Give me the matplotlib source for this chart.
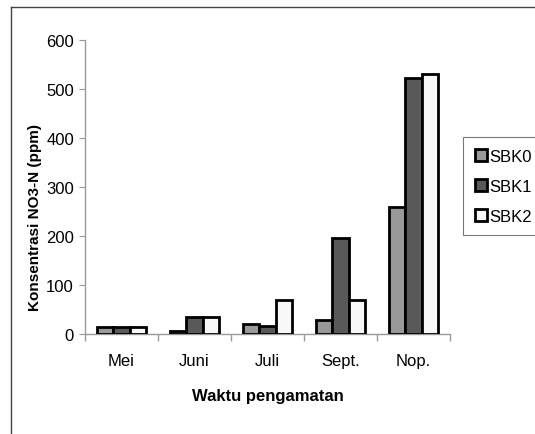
import numpy as np
import matplotlib.pyplot as plt
from matplotlib.lines import Line2D

months = ["Mei", "Juni", "Juli", "Sept.", "Nop."]
series_names = ["SBK0", "SBK1", "SBK2"]
sbk0 = [15, 6, 20, 29, 259]
sbk1 = [15, 34, 16, 196, 522]
sbk2 = [15, 34, 70, 70, 531]

colors = ["#999999", "#595959", "#f8f8f8"]

plt.rcParams['font.family'] = ['Liberation Sans', 'DejaVu Sans']

fig = plt.figure(figsize=(5.35, 4.35), dpi=100)
ax = fig.add_axes([85 / 535, 100 / 435, 365 / 535, 294 / 435])

x = np.arange(len(months))
w = 1 / 4.5
for i, (vals, name) in enumerate(zip([sbk0, sbk1, sbk2], series_names)):
    ax.bar(x + (i - 1) * w, vals, width=w, color=colors[i], edgecolor="black",
           linewidth=2, label=name, zorder=3)

ax.set_xlim(-0.5, len(months) - 0.5)
ax.set_ylim(0, 600)
ax.set_yticks(range(0, 601, 100))
ax.set_xticks(x)
ax.set_xticklabels(months, fontsize=12)
ax.set_xticks(np.arange(-0.5, len(months)), minor=True)
ax.tick_params(axis="x", which="major", length=0, pad=14)
ax.tick_params(axis="x", which="minor", length=5, color="#999999", width=1)
ax.tick_params(axis="y", length=4, color="#999999", labelsize=12, pad=4)

for side in ["top", "right"]:
    ax.spines[side].set_visible(False)
for side in ["left", "bottom"]:
    ax.spines[side].set_color("#999999")
    ax.spines[side].set_linewidth(1)

ax.set_xlabel("Waktu pengamatan", fontsize=12, fontweight="bold", labelpad=14)
ax.set_ylabel("Konsentrasi NO3-N (ppm)", fontsize=11, fontweight="bold")
ax.yaxis.set_label_coords(-0.118, 0.40)

leg = fig.legend(loc="upper left", bbox_to_anchor=(463 / 535, 1 - 138 / 435),
                 fontsize=12, frameon=True, fancybox=False, handlelength=0.75,
                 handleheight=0.75, handletextpad=0.15, labelspacing=0.9,
                 borderpad=0.7, borderaxespad=0)
leg.get_frame().set_edgecolor("#555555")
leg.get_frame().set_linewidth(0.8)

# outer chart-area border (left and top edges visible)
fig.add_artist(Line2D([11 / 535, 11 / 535], [0, 1 - 8 / 435], color="#444444",
                      linewidth=1, transform=fig.transFigure))
fig.add_artist(Line2D([11 / 535, 1], [1 - 8 / 435, 1 - 8 / 435], color="#444444",
                      linewidth=1, transform=fig.transFigure))

fig.savefig("out.png", dpi=100)
